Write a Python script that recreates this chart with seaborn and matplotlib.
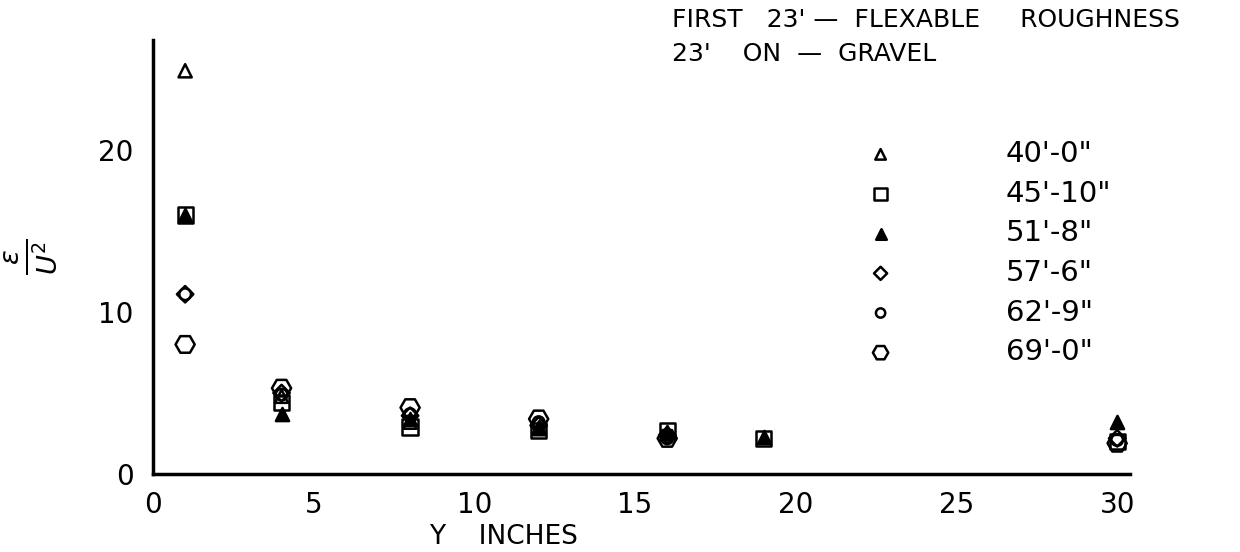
import numpy as np
import pandas as pd
import matplotlib
matplotlib.use("Agg")
import matplotlib.pyplot as plt
import seaborn as sns

# ---- data ----
y_inches = [1, 4, 8, 12, 16, 19, 30]
labels = ["40'-0\"", "45'-10\"", "51'-8\"", "57'-6\"", "62'-9\"", "69'-0\""]
s_40_0 = [24.9, 4.8, 3.2, 2.8, 2.5, np.nan, np.nan]
s_45_10 = [16.0, 4.4, 2.9, 2.7, 2.7, 2.2, 2.0]
s_51_8 = [16.0, 3.7, 3.4, 2.9, 2.6, 2.3, 3.2]
s_57_6 = [11.1, 5.0, 3.6, 3.0, 2.4, np.nan, 2.2]
s_62_9 = [11.1, 4.9, 3.7, 3.2, 2.2, np.nan, 2.1]
s_69_0 = [8.0, 5.3, 4.1, 3.4, 2.2, np.nan, 1.9]
series = [s_40_0, s_45_10, s_51_8, s_57_6, s_62_9, s_69_0]
x_ticks = [0, 5, 10, 15, 20, 25, 30]
y_ticks = [0, 10, 20]

# styles
markers = ["^", "s", "^", "D", "o", "H"]
faces = ["none", "none", "black", "none", "none", "none"]
sizes = [90, 120, 90, 70, 70, 190]

sns.set_style("white")
plt.rcParams["font.family"] = ["DejaVu Sans"]
plt.rcParams["mathtext.fontset"] = "dejavusans"
plt.rcParams["text.color"] = "black"
plt.rcParams["axes.labelcolor"] = "black"

fig = plt.figure(figsize=(12.4, 5.52), dpi=100)
ax = fig.add_axes([153 / 1240, 78 / 552, (1130 - 153) / 1240, (474 - 40) / 552])

for lab, vals, m, fc, sz in zip(labels, series, markers, faces, sizes):
    df = pd.DataFrame({"Y": y_inches, "E": vals}).dropna()
    sns.scatterplot(data=df, x="Y", y="E", ax=ax, marker=m, s=sz,
                    facecolor=fc, edgecolor="black", linewidth=1.8,
                    label=lab, zorder=3)

ax.set_xlim(0, 30.4)
ax.set_ylim(0, 26.8)
ax.set_xticks(x_ticks)
ax.set_yticks(y_ticks)
for side in ["top", "right"]:
    ax.spines[side].set_visible(False)
for side in ["left", "bottom"]:
    ax.spines[side].set_linewidth(2.5)
    ax.spines[side].set_color("black")
ax.tick_params(axis="both", direction="in", length=8, width=2,
               labelsize=20, colors="black")
ax.tick_params(axis="x", pad=12)
ax.tick_params(axis="y", pad=14)

ax.set_xlabel("Y    INCHES", fontsize=19)
ax.xaxis.set_label_coords((503 - 153) / (1130 - 153), -0.116)
ax.set_ylabel(r"$\frac{\epsilon}{U^2}$", fontsize=28, labelpad=28)

fig.text(672 / 1240, 1 - 20 / 552, "FIRST   23' —  FLEXABLE     ROUGHNESS",
         fontsize=18, va="center", ha="left")
fig.text(672 / 1240, 1 - 54 / 552, "23'    ON  —  GRAVEL",
         fontsize=18, va="center", ha="left")

leg = ax.legend(loc="upper left", bbox_to_anchor=(866 / 1240, 1 - 140 / 552),
                bbox_transform=fig.transFigure, frameon=False, fontsize=21,
                handlelength=1.0, handletextpad=3.8, labelspacing=0.40,
                borderpad=0, borderaxespad=0, markerscale=0.8)

fig.savefig("out.png", dpi=100)
